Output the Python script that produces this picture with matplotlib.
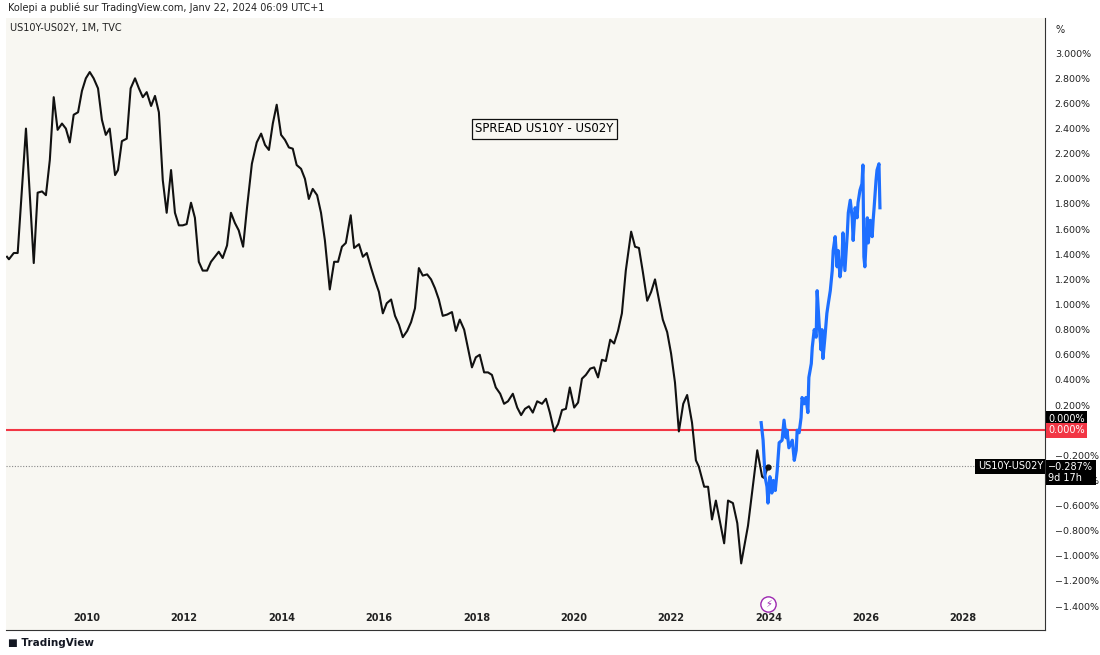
import matplotlib.pyplot as plt
import numpy as np

# monthly spread, black line (year, %)
black_yr = [2008.36, 2008.40, 2008.50, 2008.58, 2008.75, 2008.91, 2008.99, 2009.08, 2009.16, 2009.24,
            2009.32, 2009.40, 2009.49, 2009.57, 2009.65, 2009.73, 2009.82, 2009.90, 2009.98, 2010.06,
            2010.14, 2010.23, 2010.31, 2010.39, 2010.47, 2010.58, 2010.64, 2010.72, 2010.82, 2010.90,
            2010.99, 2011.07, 2011.15, 2011.23, 2011.32, 2011.40, 2011.48, 2011.56, 2011.64, 2011.73,
            2011.81, 2011.89, 2011.97, 2012.05, 2012.14, 2012.22, 2012.30, 2012.38, 2012.47, 2012.55,
            2012.63, 2012.71, 2012.79, 2012.88, 2012.96, 2013.04, 2013.12, 2013.21, 2013.29, 2013.39,
            2013.49, 2013.58, 2013.66, 2013.74, 2013.82, 2013.90, 2013.99, 2014.07, 2014.15, 2014.23,
            2014.31, 2014.40, 2014.48, 2014.56, 2014.64, 2014.73, 2014.81, 2014.89, 2014.99, 2015.08,
            2015.16, 2015.24, 2015.32, 2015.42, 2015.49, 2015.59, 2015.67, 2015.75, 2015.84, 2015.92,
            2016.00, 2016.08, 2016.16, 2016.25, 2016.33, 2016.41, 2016.49, 2016.58, 2016.66, 2016.74,
            2016.82, 2016.90, 2016.99, 2017.07, 2017.15, 2017.23, 2017.31, 2017.40, 2017.50, 2017.58,
            2017.66, 2017.75, 2017.83, 2017.91, 2017.99, 2018.07, 2018.16, 2018.24, 2018.32, 2018.40,
            2018.49, 2018.57, 2018.65, 2018.75, 2018.84, 2018.92, 2019.00, 2019.08, 2019.16, 2019.25,
            2019.35, 2019.43, 2019.51, 2019.60, 2019.68, 2019.76, 2019.84, 2019.92, 2020.01, 2020.09,
            2020.17, 2020.25, 2020.34, 2020.42, 2020.50, 2020.58, 2020.66, 2020.75, 2020.83, 2020.91,
            2020.99, 2021.07, 2021.18, 2021.26, 2021.34, 2021.42, 2021.51, 2021.59, 2021.67, 2021.83,
            2021.92, 2022.00, 2022.08, 2022.16, 2022.25, 2022.33, 2022.43, 2022.51, 2022.57, 2022.68,
            2022.76, 2022.84, 2022.92, 2023.09, 2023.17, 2023.27, 2023.36, 2023.44, 2023.58, 2023.77,
            2023.87, 2023.91, 2023.99]
black_val = [1.38, 1.36, 1.41, 1.41, 2.40, 1.33, 1.89, 1.90, 1.87, 2.15,
             2.65, 2.39, 2.44, 2.40, 2.29, 2.51, 2.53, 2.70, 2.80, 2.85,
             2.80, 2.72, 2.47, 2.35, 2.40, 2.03, 2.07, 2.30, 2.32, 2.72,
             2.80, 2.72, 2.65, 2.69, 2.58, 2.66, 2.53, 1.99, 1.73, 2.07,
             1.73, 1.63, 1.63, 1.64, 1.81, 1.69, 1.34, 1.27, 1.27, 1.34,
             1.38, 1.42, 1.37, 1.47, 1.73, 1.65, 1.59, 1.46, 1.77, 2.12,
             2.29, 2.36, 2.27, 2.23, 2.44, 2.59, 2.35, 2.31, 2.25, 2.24,
             2.11, 2.08, 2.00, 1.84, 1.92, 1.87, 1.73, 1.51, 1.12, 1.34,
             1.34, 1.46, 1.49, 1.71, 1.45, 1.48, 1.38, 1.41, 1.29, 1.19,
             1.10, 0.93, 1.01, 1.04, 0.91, 0.84, 0.74, 0.79, 0.86, 0.97,
             1.29, 1.23, 1.24, 1.20, 1.13, 1.04, 0.91, 0.92, 0.94, 0.79,
             0.88, 0.80, 0.65, 0.50, 0.58, 0.60, 0.46, 0.46, 0.44, 0.34,
             0.29, 0.21, 0.23, 0.29, 0.18, 0.12, 0.17, 0.19, 0.14, 0.23,
             0.21, 0.25, 0.14, -0.01, 0.05, 0.16, 0.17, 0.34, 0.18, 0.22,
             0.41, 0.44, 0.49, 0.50, 0.42, 0.56, 0.55, 0.72, 0.69, 0.79,
             0.93, 1.27, 1.58, 1.46, 1.45, 1.26, 1.03, 1.10, 1.20, 0.88,
             0.78, 0.61, 0.38, -0.01, 0.21, 0.28, 0.06, -0.24, -0.29, -0.45,
             -0.45, -0.71, -0.56, -0.90, -0.56, -0.58, -0.74, -1.06, -0.76, -0.16,
             -0.37, -0.38, -0.29]

# projected path, blue line
blue_yr = [2023.85, 2023.89, 2023.93, 2023.97, 2023.99, 2024.03, 2024.07, 2024.10, 2024.14, 2024.18,
           2024.22, 2024.28, 2024.32, 2024.36, 2024.38, 2024.42, 2024.49, 2024.53, 2024.57, 2024.59,
           2024.63, 2024.67, 2024.69, 2024.73, 2024.77, 2024.81, 2024.83, 2024.88, 2024.90, 2024.94,
           2024.98, 2025.00, 2025.04, 2025.08, 2025.10, 2025.12, 2025.16, 2025.20, 2025.23, 2025.27,
           2025.31, 2025.33, 2025.37, 2025.41, 2025.43, 2025.47, 2025.51, 2025.53, 2025.57, 2025.62,
           2025.64, 2025.68, 2025.72, 2025.74, 2025.78, 2025.82, 2025.84, 2025.88, 2025.92, 2025.94,
           2025.96, 2025.98, 2026.03, 2026.05, 2026.09, 2026.13, 2026.15, 2026.17, 2026.21, 2026.23,
           2026.27, 2026.29]
blue_val = [0.06, -0.08, -0.37, -0.45, -0.58, -0.37, -0.50, -0.40, -0.48, -0.32,
            -0.10, -0.08, 0.08, -0.06, 0.00, -0.14, -0.08, -0.24, -0.16, 0.00,
            -0.02, 0.10, 0.26, 0.21, 0.26, 0.14, 0.42, 0.53, 0.66, 0.80,
            0.74, 1.11, 0.85, 0.64, 0.80, 0.57, 0.74, 0.93, 1.01, 1.11,
            1.27, 1.43, 1.54, 1.30, 1.43, 1.22, 1.35, 1.57, 1.27, 1.57,
            1.73, 1.83, 1.69, 1.51, 1.77, 1.69, 1.81, 1.91, 1.96, 2.11,
            1.38, 1.30, 1.69, 1.49, 1.67, 1.54, 1.67, 1.77, 1.99, 2.07,
            2.12, 1.77]

last_val = -0.287
year_ticks = [2010, 2012, 2014, 2016, 2018, 2020, 2022, 2024, 2026, 2028]
pct_ticks = [v for v in np.round(np.arange(-1.4, 3.01, 0.2), 1) if v != 0.0]

BG = '#f8f7f2'
RED = '#f23645'
BLUE = '#1e6fff'

fig = plt.figure(figsize=(11, 6.55), dpi=100)
fig.patch.set_facecolor('white')
ax = fig.add_axes([6 / 1100, 1 - 630 / 655, 1039 / 1100, 612 / 655])
ax.set_facecolor(BG)
ax.set_xlim(2008.34, 2029.68)
ax.set_ylim(-1.59, 3.28)

ax.axhline(0, color=RED, lw=1.5, zorder=2)
ax.axhline(last_val, color='#888888', lw=0.8, ls=(0, (1, 1.5)), zorder=2)
ax.plot(black_yr, black_val, color='#111111', lw=1.5, zorder=3)
ax.plot(blue_yr, blue_val, color=BLUE, lw=2.3, zorder=4)
ax.plot(black_yr[-1], black_val[-1], 'o', color='#111111', ms=3.5, zorder=5)

ax.text(2019.4, 2.4, 'SPREAD US10Y - US02Y', fontsize=8.5, ha='center', va='center',
        bbox=dict(boxstyle='square,pad=0.3', fc=BG, ec='#111111', lw=0.9))

ax.set_xticks(year_ticks)
ax.set_xticklabels([str(y) for y in year_ticks], fontsize=7, fontweight='bold', color='#222222')
ax.tick_params(axis='x', length=0, pad=-12)
ax.yaxis.tick_right()
ax.set_yticks(pct_ticks)
ax.set_yticklabels([('%.3f%%' % v).replace('-', '\u2212') for v in pct_ticks], fontsize=6.8, color='#222222')
ax.tick_params(axis='y', length=0, pad=7)
for s in ['top', 'left']:
    ax.spines[s].set_visible(False)
ax.spines['right'].set_color('#333333')
ax.spines['bottom'].set_color('#333333')

# price labels on the right scale
tr = ax.get_yaxis_transform()
ax.text(1.003, 0.09, '0.000%', transform=tr, fontsize=7, color='white', va='center',
        bbox=dict(boxstyle='square,pad=0.25', fc='black', ec='none'), zorder=6, clip_on=False)
ax.text(1.003, 0.0, '0.000%', transform=tr, fontsize=7, color='white', va='center',
        bbox=dict(boxstyle='square,pad=0.25', fc=RED, ec='none'), zorder=6, clip_on=False)
ax.text(1.003, last_val - 0.05, '\u22120.287%\n9d 17h', transform=tr, fontsize=7, color='white',
        va='center', linespacing=1.1,
        bbox=dict(boxstyle='square,pad=0.25', fc='black', ec='none'), zorder=6, clip_on=False)
ax.text(0.998, last_val, 'US10Y-US02Y', transform=tr, fontsize=7, color='white', va='center', ha='right',
        bbox=dict(boxstyle='square,pad=0.25', fc='black', ec='none'), zorder=6, clip_on=False)

ax.plot(2024.0, -1.38, 'o', ms=11, mfc='white', mec='#9c27b0', mew=1, zorder=6, clip_on=False)
ax.text(2024.0, -1.38, '\u26a1', fontsize=7, color='#9c27b0', ha='center', va='center', zorder=7)

fig.text(1055 / 1100, 1 - 30 / 655, '%', fontsize=7, color='#222222', va='center')
fig.text(8 / 1100, 1 - 8 / 655, 'Kolepi a publié sur TradingView.com, Janv 22, 2024 06:09 UTC+1',
         fontsize=7, color='#222222', va='center')
fig.text(10 / 1100, 1 - 28 / 655, 'US10Y-US02Y, 1M, TVC', fontsize=7, color='#222222', va='center')
fig.text(8 / 1100, 1 - 643 / 655, '\u25a0 TradingView', fontsize=7.5, fontweight='bold',
         color='#131722', va='center')

fig.savefig('out.png', dpi=100, facecolor=fig.get_facecolor())
